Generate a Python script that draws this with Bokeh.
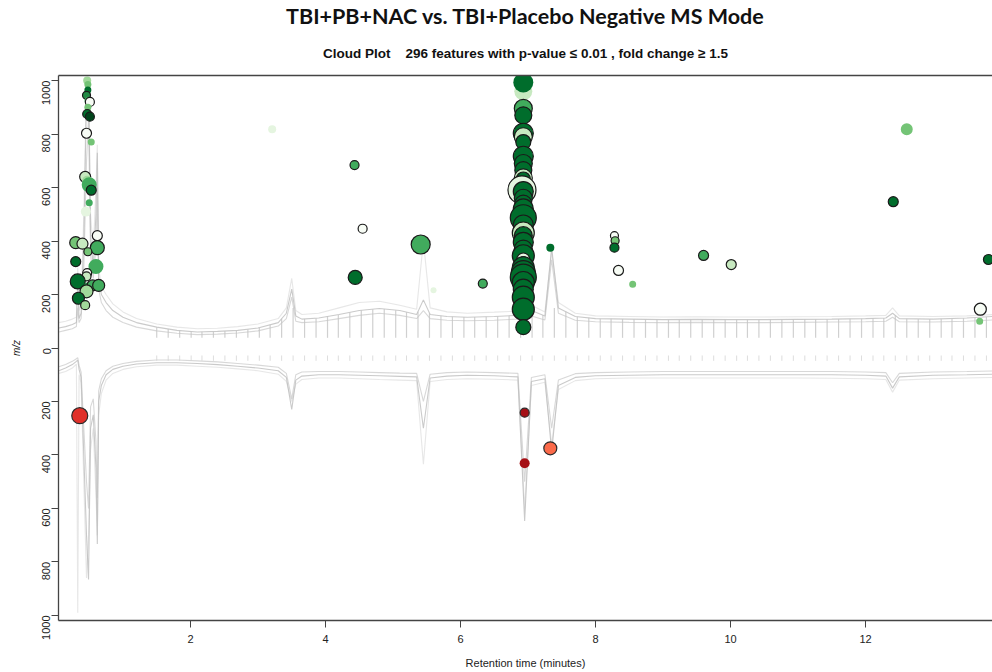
import numpy as np
from bokeh.plotting import figure
from bokeh.models import ColumnDataSource, FixedTicker, LinearAxis, Title, Range1d
from bokeh.embed import file_html
from bokeh.resources import INLINE

# ---------------- data ----------------
title_text = "TBI+PB+NAC vs. TBI+Placebo Negative MS Mode"
subtitle_text = "Cloud Plot\u00a0\u00a0\u00a0\u00a0296 features with p-value \u2264 0.01 , fold change \u2265 1.5"
x_ticks = [2, 4, 6, 8, 10, 12]
y_ticks = [-1000, -800, -600, -400, -200, 0, 200, 400, 600, 800, 1000]

greens = ["#f7fcf5", "#e5f5e0", "#c7e9c0", "#a1d99b", "#74c476",
          "#41ab5d", "#238b45", "#006d2c", "#00441b"]
reds = ["#fb6a4a", "#e0302a", "#a50f15"]

# up-regulated features
up_rt = [0.47, 0.48, 0.48, 0.46, 0.49, 0.51, 0.48, 0.47, 0.51, 0.46, 0.53, 0.44, 0.47, 0.50,
         0.53, 0.50, 0.45, 0.30, 0.40, 0.62, 0.62, 0.48, 0.30, 0.60, 0.47, 0.46, 0.33, 0.48,
         0.55, 0.64, 0.46, 0.34, 0.44,
         3.21, 4.43, 4.55, 5.41, 4.44, 5.60, 6.33, 7.33, 8.28, 8.29, 8.28, 8.34, 8.55, 9.60,
         10.01, 12.61, 12.41, 13.82, 13.70, 13.69,
         6.93, 6.93, 6.93, 6.93, 6.93, 6.93, 6.93, 6.93, 6.93, 6.93, 6.93, 6.93, 6.91, 6.93,
         6.93, 6.93, 6.93, 6.93, 6.93, 6.93, 6.93, 6.93, 6.93, 6.93, 6.93, 6.93, 6.93, 6.93,
         6.93, 6.93, 6.93, 6.93, 6.93, 6.93]
up_mz = [1000, 985, 965, 945, 925, 920, 900, 875, 865, 803, 770, 640, 625, 610,
         590, 543, 510, 394, 390, 420, 375, 360, 323, 305, 280, 268, 249, 228,
         234, 234, 212, 186, 160,
         818, 684, 446, 387, 264, 216, 241, 375, 420, 401, 375, 290, 238, 346,
         312, 818, 547, 331, 145, 100,
         960, 993, 896, 870, 803, 790, 770, 717, 690, 665, 636, 632, 591, 585,
         560, 540, 520, 487, 460, 430, 420, 395, 370, 345, 331, 325, 300, 282,
         265, 245, 220, 190, 145, 78]
up_fc = [2.0, 1.75, 1.75, 2.0, 2.0, 2.25, 1.75, 2.25, 2.25, 2.5, 1.75, 2.75, 2.5, 3.75,
         2.5, 1.75, 2.5, 3.0, 2.75, 2.5, 3.5, 2.0, 2.5, 3.75, 2.25, 2.25, 3.75, 2.25,
         2.75, 3.0, 3.25, 3.0, 2.25,
         2.0, 2.25, 2.25, 4.75, 3.5, 1.5, 2.25, 2.0, 2.0, 2.0, 2.25, 2.5, 1.75, 2.5,
         2.5, 3.0, 2.5, 2.5, 3.0, 1.75,
         4.5, 5.0, 4.5, 4.25, 5.0, 4.5, 3.75, 5.0, 4.5, 4.25, 4.5, 3.5, 7.0, 5.0,
         4.5, 4.25, 5.0, 6.5, 5.0, 5.5, 4.5, 5.0, 4.5, 5.5, 3.25, 2.25, 5.5, 6.0,
         6.5, 5.5, 5.0, 5.5, 5.5, 3.75]
up_shade = [3, 4, 7, 6, 5, 0, 4, 7, 8, 0, 4, 2, 3, 5,
            7, 5, 1, 4, 2, 0, 5, 4, 7, 5, 0, 2, 7, 6,
            5, 5, 3, 7, 3,
            1, 5, 0, 5, 7, 1, 5, 7, 0, 4, 7, 0, 4, 5,
            2, 4, 7, 7, 0, 4,
            2, 7, 5, 7, 7, 2, 7, 7, 7, 7, 2, 7, 1, 7,
            7, 7, 7, 7, 7, 2, 7, 7, 7, 7, 1, 7, 7, 7,
            7, 7, 7, 7, 7, 7]
up_ring = [0, 0, 0, 1, 0, 1, 0, 1, 1, 1, 0, 1, 0, 0,
           1, 0, 0, 1, 1, 1, 1, 1, 1, 0, 1, 1, 1, 0,
           1, 1, 1, 1, 1,
           0, 1, 1, 1, 1, 0, 1, 0, 1, 1, 1, 1, 0, 1,
           1, 0, 1, 1, 1, 0,
           0, 0, 1, 1, 1, 1, 1, 1, 1, 1, 1, 1, 1, 1,
           1, 1, 1, 1, 1, 1, 1, 1, 1, 1, 1, 1, 1, 1,
           1, 1, 1, 1, 1, 1]

# down-regulated features
dn_rt = [0.36, 6.95, 6.95, 7.33]
dn_mz = [253, 242, 431, 375]
dn_fc = [4.0, 2.25, 2.5, 3.25]
dn_shade = [1, 2, 2, 0]
dn_ring = [1, 1, 0, 1]

# total ion chromatograms (scaled), upper group
tic_rt = [0.05, 0.15, 0.25, 0.31, 0.33, 0.35, 0.38, 0.42, 0.46, 0.49, 0.52, 0.56, 0.60, 0.62,
          0.64, 0.68, 0.75, 0.85, 1.0, 1.2, 1.5, 1.8, 2.1, 2.4, 2.7, 3.0, 3.3, 3.42, 3.50,
          3.56, 3.65, 3.9, 4.2, 4.5, 4.8, 5.1, 5.35, 5.45, 5.55, 5.8, 6.1, 6.5, 6.85, 6.95,
          7.05, 7.25, 7.35, 7.45, 7.7, 8.0, 8.5, 9.0, 9.5, 10.0, 10.5, 11.0, 11.5, 12.0,
          12.3, 12.4, 12.5, 13.0, 13.5, 13.9]
tic_up_a = [75, 80, 88, 95, 240, 110, 130, 400, 950, 1000, 420, 300, 500, 730,
            260, 200, 170, 140, 115, 95, 78, 66, 60, 62, 66, 75, 95, 130, 220,
            120, 108, 112, 125, 140, 148, 140, 125, 180, 125, 118, 115, 118, 122, 520,
            140, 120, 375, 150, 118, 110, 108, 106, 107, 106, 106, 107, 108, 110,
            112, 130, 110, 108, 112, 118]
tic_up_b = [60, 66, 72, 80, 150, 95, 110, 300, 700, 860, 350, 260, 380, 600,
            220, 170, 140, 115, 95, 78, 64, 55, 50, 52, 56, 64, 82, 110, 190,
            100, 95, 98, 110, 122, 130, 122, 110, 140, 110, 104, 102, 104, 108, 400,
            120, 105, 330, 130, 104, 98, 96, 95, 96, 95, 95, 96, 97, 98,
            100, 115, 98, 97, 100, 105]
tic_up_c = [95, 100, 108, 115, 300, 140, 160, 500, 1000, 1000, 500, 360, 600, 760,
            300, 230, 200, 165, 135, 110, 90, 78, 72, 74, 80, 90, 110, 150, 260,
            140, 125, 130, 150, 170, 175, 160, 145, 400, 150, 135, 130, 134, 138, 650,
            160, 135, 360, 170, 130, 120, 118, 116, 117, 116, 116, 117, 118, 120,
            122, 150, 120, 118, 120, 125]
# lower group
tic_dn_a = [-85, -75, -62, -50, -45, -80, -110, -400, -700, -866, -300, -250, -450, -733,
            -200, -140, -100, -80, -68, -60, -55, -55, -58, -62, -68, -75, -85, -110, -230,
            -120, -105, -100, -100, -102, -104, -106, -108, -300, -112, -105, -102, -104, -108, -647,
            -125, -115, -387, -140, -110, -104, -102, -100, -100, -100, -100, -100, -100, -102,
            -105, -150, -108, -102, -100, -98]
tic_dn_b = [-70, -62, -50, -40, -36, -65, -90, -300, -500, -600, -220, -190, -350, -560,
            -160, -115, -85, -68, -58, -50, -45, -45, -48, -52, -58, -64, -72, -95, -190,
            -100, -90, -88, -88, -90, -92, -94, -95, -200, -98, -92, -90, -92, -95, -500,
            -110, -100, -300, -120, -96, -92, -90, -88, -88, -88, -88, -88, -88, -90,
            -92, -130, -95, -90, -88, -86]
tic_dn_c = [-95, -88, -75, -60, -990, -100, -130, -500, -860, -700, -380, -300, -550, -700,
            -250, -170, -120, -95, -80, -70, -64, -64, -68, -72, -78, -85, -98, -125, -200,
            -135, -118, -112, -112, -115, -118, -120, -122, -435, -125, -118, -115, -117, -120, -600,
            -140, -128, -360, -155, -122, -115, -112, -112, -112, -112, -112, -112, -113, -115,
            -118, -165, -120, -115, -112, -110]
scan_rt = [1.50, 1.67, 1.84, 2.01, 2.17, 2.34, 2.51, 2.68, 2.85, 3.02, 3.18, 3.35, 3.52, 3.69,
           3.86, 4.03, 4.19, 4.36, 4.53, 4.70, 4.87, 5.04, 5.20, 5.37, 5.54, 5.71, 5.88, 6.05,
           6.21, 6.38, 6.55, 6.72, 6.89, 7.06, 7.22, 7.39, 7.56, 7.73, 7.90, 8.07, 8.23, 8.40,
           8.57, 8.74, 8.91, 9.08, 9.24, 9.41, 9.58, 9.75, 9.92, 10.09, 10.25, 10.42, 10.59,
           10.76, 10.93, 11.10, 11.26, 11.43, 11.60, 11.77, 11.94, 12.11, 12.27, 12.44, 12.61,
           12.78, 12.95, 13.12, 13.28, 13.45, 13.62, 13.79]

# ---------------- figure ----------------
W, H = 992, 672
p = figure(width=W, height=H, output_backend="svg", toolbar_location=None, title=None,
           x_range=Range1d(0.045, 13.88), y_range=Range1d(-1019, 1019),
           min_border_left=58, min_border_top=72, min_border_bottom=52, min_border_right=0,
           background_fill_color="white", border_fill_color="white")
p.outline_line_color = None
p.grid.visible = False

# chromatogram traces
for ys, col, al in [(tic_up_c, "#d0d0d0", 0.5), (tic_up_b, "#c8c8c8", 0.7), (tic_up_a, "#bdbdbd", 0.8),
                    (tic_dn_c, "#d0d0d0", 0.5), (tic_dn_b, "#c8c8c8", 0.7), (tic_dn_a, "#bdbdbd", 0.8)]:
    p.line(tic_rt, ys, line_color=col, line_alpha=al, line_width=1.1)

scan_top = np.minimum(np.interp(scan_rt, tic_rt, tic_up_a), 150)
p.segment(x0=scan_rt, y0=[38] * len(scan_rt), x1=scan_rt, y1=scan_top,
          line_color="#c4c4c4", line_width=1.2, line_alpha=0.8)
p.segment(x0=scan_rt, y0=[-28] * len(scan_rt), x1=scan_rt, y1=[-48] * len(scan_rt),
          line_color="#d4d4d4", line_width=1.0, line_alpha=0.8)

# feature bubbles
up_src = ColumnDataSource(dict(
    x=up_rt, y=up_mz, size=[4 * f for f in up_fc],
    fill=[greens[s] for s in up_shade],
    la=[1.0 if r else 0.0 for r in up_ring]))
p.scatter("x", "y", source=up_src, size="size", fill_color="fill",
          line_color="#1a1a1a", line_alpha="la", line_width=1.2)

dn_src = ColumnDataSource(dict(
    x=dn_rt, y=[-m for m in dn_mz], size=[4 * f for f in dn_fc],
    fill=[reds[s] for s in dn_shade],
    la=[1.0 if r else 0.0 for r in dn_ring]))
p.scatter("x", "y", source=dn_src, size="size", fill_color="fill",
          line_color="#2a2a2a", line_alpha="la", line_width=1.2)

# axes
ax = p.xaxis[0]
ax.ticker = FixedTicker(ticks=x_ticks)
ax.axis_label = "Retention time (minutes)"
ax.axis_label_text_font = "Liberation Sans"
ax.axis_label_text_font_size = "11px"
ax.axis_label_text_font_style = "normal"
ax.axis_label_text_color = "#222222"
ax.axis_label_standoff = 11
ax.major_label_text_font = "Liberation Sans"
ax.major_label_text_font_size = "11px"
ax.major_label_text_color = "#222222"
ax.major_label_standoff = 7
ax.major_tick_out = 7
ax.major_tick_in = 0
ax.minor_tick_line_color = None
ax.axis_line_color = "#444444"
ax.axis_line_width = 1.3
ax.major_tick_line_color = "#444444"

ay = p.yaxis[0]
ay.ticker = FixedTicker(ticks=y_ticks)
ay.major_label_overrides = {t: str(abs(t)) for t in y_ticks}
ay.major_label_orientation = np.pi / 2
ay.axis_label = "m/z"
ay.axis_label_text_font = "Liberation Sans"
ay.axis_label_text_font_size = "10px"
ay.axis_label_text_font_style = "italic"
ay.axis_label_text_color = "#222222"
ay.axis_label_standoff = 14
ay.major_label_text_font = "Liberation Sans"
ay.major_label_text_font_size = "11px"
ay.major_label_text_color = "#222222"
ay.major_label_standoff = 5
ay.major_tick_out = 7
ay.major_tick_in = 0
ay.minor_tick_line_color = None
ay.axis_line_color = "#444444"
ay.axis_line_width = 1.3
ay.major_tick_line_color = "#444444"

top = LinearAxis(ticker=FixedTicker(ticks=[]), major_label_text_font_size="0px",
                 major_label_standoff=0, major_tick_out=0, major_tick_in=0,
                 axis_line_color="#444444", axis_line_width=1.3,
                 major_tick_line_color=None, minor_tick_line_color=None)
sub = Title(text=subtitle_text, align="center", offset=3, standoff=30,
            text_font="Liberation Sans", text_font_style="bold", text_font_size="13.5px",
            text_color="#111111")
main = Title(text=title_text, align="center", offset=11, standoff=0,
             text_font="Lato", text_font_style="bold", text_font_size="21.5px",
             text_color="#111111")
p.above = [top, sub, main]

open("out.html", "w").write(file_html(p, INLINE))
